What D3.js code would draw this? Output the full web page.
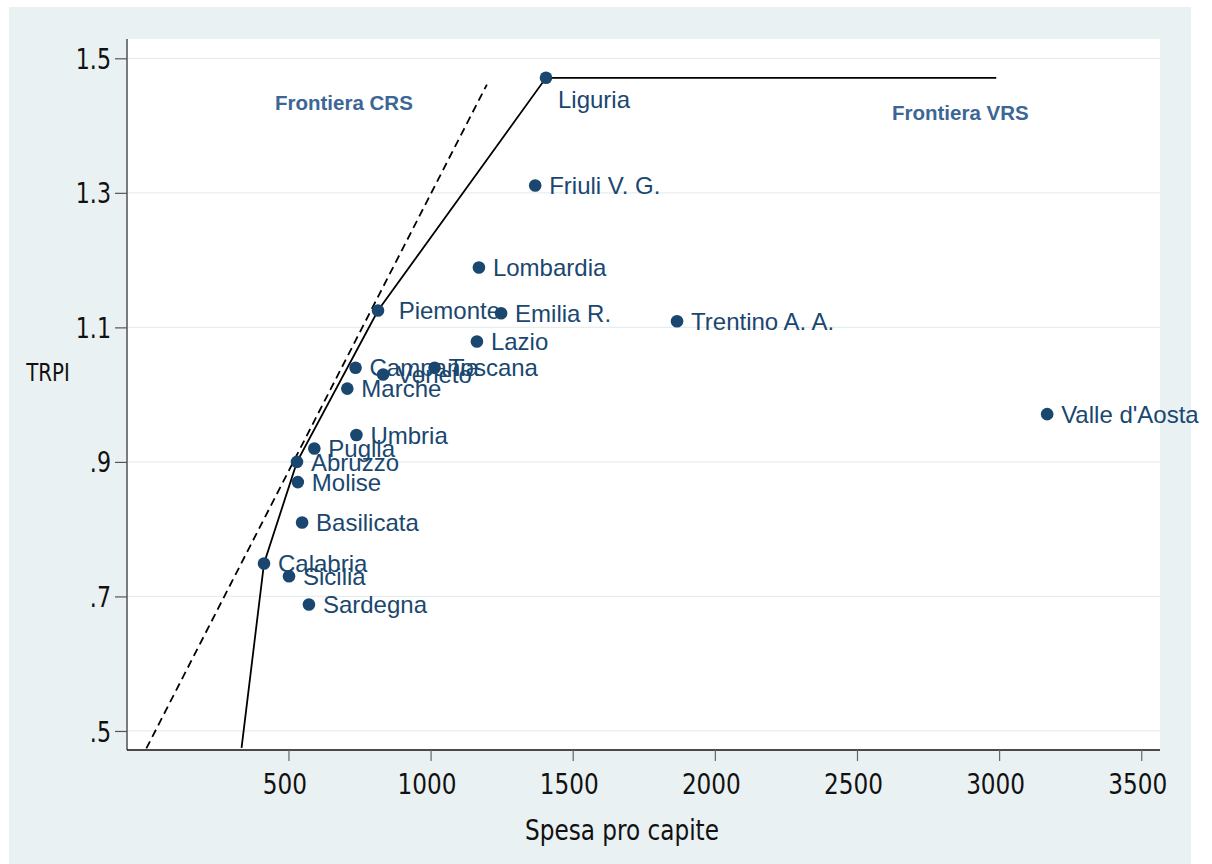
<!DOCTYPE html>
<html>
<head>
<meta charset="utf-8">
<script src="https://cdn.jsdelivr.net/npm/d3@7"></script>
<style>
  html, body { margin: 0; padding: 0; background: #ffffff; }
  svg { display: block; }
  .axis-text { font-family: "Liberation Sans Narrow", "DejaVu Sans Condensed", "Arial Narrow", sans-serif; fill: #111; }
  .pt-label { font-family: "Liberation Sans", Arial, sans-serif; fill: #1a476f; white-space: pre; }
  .frontier-label { font-family: "Liberation Sans", Arial, sans-serif; font-weight: bold; fill: #3c6695; }
</style>
</head>
<body>
<script>
// Regions: per-capita spending vs TRPI
const regions = ["Liguria", "Friuli V. G.", "Lombardia", " Piemonte", "Emilia R.", "Trentino A. A.",
  "Lazio", "Campania", "Toscana", "Veneto", "Marche", "Valle d'Aosta", "Umbria", "Puglia",
  "Abruzzo", "Molise", "Basilicata", "Calabria", "Sicilia", "Sardegna"];
const spesa = [1406, 1368, 1170, 815, 1248, 1867, 1163, 736, 1014, 833, 707, 3169, 739, 591,
  530, 533, 548, 414, 502, 572];
const trpi = [1.471, 1.311, 1.189, 1.125, 1.121, 1.109, 1.079, 1.040, 1.040, 1.030, 1.009, 0.971,
  0.940, 0.920, 0.900, 0.870, 0.810, 0.749, 0.730, 0.688];
// marker-label clock positions (3 = right, 5 = below right)
const labelClock = [5, 3, 3, 3, 3, 3, 3, 3, 3, 3, 3, 3, 3, 3, 3, 3, 3, 3, 3, 3];

// VRS frontier (piecewise linear) and CRS frontier (ray)
const vrsX = [335, 414, 530, 815, 1406, 2990];
const vrsY = [0.475, 0.749, 0.900, 1.125, 1.471, 1.471];
const crsX = [0, 1198];
const crsY = [0.474, 1.461];

const xTicks = [500, 1000, 1500, 2000, 2500, 3000, 3500];
const yTicks = [0.5, 0.7, 0.9, 1.1, 1.3, 1.5];
const yTickLabels = [".5", ".7", ".9", "1.1", "1.3", "1.5"];

const W = 1212, H = 864;
const plot = { left: 127, right: 1160, top: 39, bottom: 750 };

const svg = d3.select("body").append("svg").attr("width", W).attr("height", H);

// outer graph region
svg.append("rect").attr("x", 9).attr("y", 7).attr("width", 1182).attr("height", 857)
  .attr("fill", "#eaf1f3");
// plot region
svg.append("rect").attr("x", plot.left).attr("y", plot.top)
  .attr("width", plot.right - plot.left).attr("height", plot.bottom - plot.top)
  .attr("fill", "#ffffff");

const x = d3.scaleLinear().domain([-68, 3566]).range([plot.left, plot.right]);
const y = d3.scaleLinear().domain([0.4717, 1.5287]).range([plot.bottom, plot.top]);

// horizontal grid
svg.append("g").selectAll("line").data(yTicks).join("line")
  .attr("x1", plot.left).attr("x2", plot.right)
  .attr("y1", d => y(d)).attr("y2", d => y(d))
  .attr("stroke", "#e6eef0").attr("stroke-width", 1.2);

// y axis
const yAxis = d3.axisLeft(y).tickValues(yTicks).tickSize(12)
  .tickFormat((d, i) => yTickLabels[i]);
const gy = svg.append("g").attr("transform", `translate(${plot.left},0)`).call(yAxis);
gy.select(".domain").attr("stroke", "#7a7a7a").attr("stroke-width", 2)
  .attr("d", `M0,${plot.top}V${plot.bottom}`);
gy.selectAll(".tick line").attr("stroke", "#555").attr("stroke-width", 1.2);
gy.selectAll(".tick text").attr("class", "axis-text").attr("x", 0)
  .attr("transform", "translate(-16,0) scale(0.88,1)")
  .style("font-size", "28px").attr("dy", "0.36em");

// x axis
const xAxis = d3.axisBottom(x).tickValues(xTicks).tickSize(11).tickFormat(d3.format("d"));
const gx = svg.append("g").attr("transform", `translate(0,${plot.bottom})`).call(xAxis);
gx.select(".domain").attr("stroke", "#111").attr("stroke-width", 1.5)
  .attr("d", `M${plot.left},0H${plot.right}`);
gx.selectAll(".tick line").attr("stroke", "#666").attr("stroke-width", 1.2);
gx.selectAll(".tick text").attr("class", "axis-text").attr("y", 0)
  .attr("transform", "translate(-4,24) scale(0.92,1)")
  .style("font-size", "28px").attr("dy", "0.71em");

// axis titles
svg.append("text").attr("class", "axis-text")
  .attr("transform", "translate(622,840) scale(0.92,1)")
  .attr("text-anchor", "middle").style("font-size", "28px").text("Spesa pro capite");
svg.append("text").attr("class", "axis-text")
  .attr("transform", "translate(48,381) scale(0.88,1)")
  .attr("text-anchor", "middle").style("font-size", "25px").text("TRPI");

// frontiers
const line = d3.line().x(d => x(d[0])).y(d => y(d[1]));
svg.append("path").datum(crsX.map((v, i) => [v, crsY[i]]))
  .attr("d", line).attr("fill", "none").attr("stroke", "#000")
  .attr("stroke-width", 1.8).attr("stroke-dasharray", "8,5");
svg.append("path").datum(vrsX.map((v, i) => [v, vrsY[i]]))
  .attr("d", line).attr("fill", "none").attr("stroke", "#000").attr("stroke-width", 1.8);

// points
const pts = regions.map((r, i) => ({ r, x: spesa[i], y: trpi[i], c: labelClock[i] }));
svg.append("g").selectAll("circle").data(pts).join("circle")
  .attr("cx", d => x(d.x)).attr("cy", d => y(d.y)).attr("r", 6.3)
  .attr("fill", "#1a476f");
svg.append("g").selectAll("text").data(pts).join("text")
  .attr("class", "pt-label")
  .attr("x", d => x(d.x) + (d.c === 5 ? 12 : 14))
  .attr("y", d => y(d.y) + (d.c === 5 ? 22 : 0))
  .attr("dy", "0.36em")
  .style("font-size", "24px")
  .text(d => d.r);

// frontier labels
svg.append("text").attr("class", "frontier-label").attr("x", 275).attr("y", 110)
  .style("font-size", "20.5px").text("Frontiera CRS");
svg.append("text").attr("class", "frontier-label").attr("x", 892).attr("y", 120)
  .style("font-size", "20.5px").text("Frontiera VRS");
</script>
</body>
</html>
